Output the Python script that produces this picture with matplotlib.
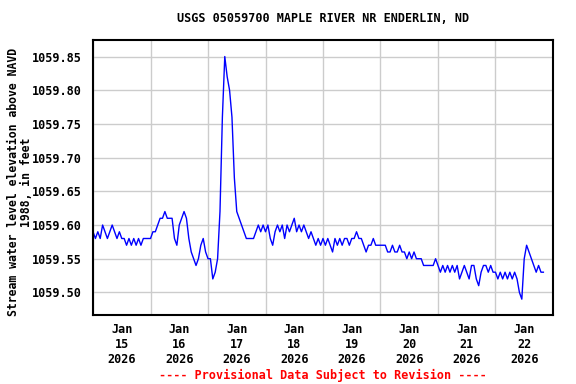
import numpy as np
import pandas as pd
import matplotlib
matplotlib.use("Agg")
import matplotlib.pyplot as plt
import matplotlib.dates as mdates

# Hourly water level readings (ft above NAVD 1988), one list per day
base = 1059.0
jan15 = [.59, .58, .59, .58, .60, .59, .58, .59, .60, .59, .58, .59,
         .58, .58, .57, .58, .57, .58, .57, .58, .57, .58, .58, .58]
jan16 = [.58, .59, .59, .60, .61, .61, .62, .61, .61, .61, .58, .57,
         .60, .61, .62, .61, .58, .56, .55, .54, .55, .57, .58, .56]
jan17 = [.55, .55, .52, .53, .55, .62, .76, .85, .82, .80, .76, .67,
         .62, .61, .60, .59, .58, .58, .58, .58, .59, .60, .59, .60]
jan18 = [.59, .60, .58, .57, .59, .60, .59, .60, .58, .60, .59, .60,
         .61, .59, .60, .59, .60, .59, .58, .59, .58, .57, .58, .57]
jan19 = [.58, .57, .58, .57, .56, .58, .57, .58, .57, .58, .58, .57,
         .58, .58, .59, .58, .58, .57, .56, .57, .57, .58, .57, .57]
jan20 = [.57, .57, .57, .56, .56, .57, .56, .56, .57, .56, .56, .55,
         .56, .55, .56, .55, .55, .55, .54, .54, .54, .54, .54, .55]
jan21 = [.54, .53, .54, .53, .54, .53, .54, .53, .54, .52, .53, .54,
         .53, .52, .54, .54, .52, .51, .53, .54, .54, .53, .54, .53]
jan22 = [.53, .52, .53, .52, .53, .52, .53, .52, .53, .52, .50, .49,
         .55, .57, .56, .55, .54, .53, .54, .53, .53]

levels = base + np.array(jan15 + jan16 + jan17 + jan18 + jan19 + jan20 + jan21 + jan22)
times = pd.date_range("2026-01-15 00:00", periods=len(levels), freq="h")

yticks = [1059.50, 1059.55, 1059.60, 1059.65, 1059.70, 1059.75, 1059.80, 1059.85]

mono = "DejaVu Sans Mono"
fig = plt.figure(figsize=(5.76, 3.84), dpi=100)
ax = fig.add_axes([0.1615, 0.1797, 0.7985, 0.7161])

ax.plot(times, levels, color="#0000ff", linewidth=1.0)

ax.set_xlim(pd.Timestamp("2026-01-15"), pd.Timestamp("2026-01-23"))
ax.set_ylim(1059.4665, 1059.8745)

ax.xaxis.set_major_locator(mdates.DayLocator())
ax.xaxis.set_major_formatter(plt.NullFormatter())
ax.xaxis.set_minor_locator(mdates.HourLocator(byhour=12))
ax.xaxis.set_minor_formatter(mdates.DateFormatter("%b\n%d\n%Y"))
ax.tick_params(axis="x", which="major", length=0)
ax.tick_params(axis="x", which="minor", length=0, pad=6)
ax.set_yticks(yticks)
ax.set_yticklabels([f"{v:.2f}" for v in yticks])
ax.tick_params(axis="y", length=0, pad=8)

for lbl in ax.get_xticklabels(minor=True) + ax.get_yticklabels():
    lbl.set_fontfamily(mono)
    lbl.set_fontweight("bold")
    lbl.set_fontsize(8.5)
    lbl.set_linespacing(1.2)

ax.grid(True, which="major", color="#cccccc", linewidth=1.0)
ax.set_axisbelow(True)
for sp in ax.spines.values():
    sp.set_linewidth(1.5)
    sp.set_color("black")

fig.text(0.561, 1 - 19 / 384, "USGS 05059700 MAPLE RIVER NR ENDERLIN, ND",
         fontfamily=mono, fontweight="bold", fontsize=8.5,
         ha="center", va="center")
fig.text(20 / 576, 1 - 182 / 384,
         "Stream water level elevation above NAVD\n1988, in feet",
         fontfamily=mono, fontweight="bold", fontsize=8.3, rotation=90,
         ha="center", va="center", multialignment="center", linespacing=1.05)

fig.text(0.561, 1 - 375 / 384, "---- Provisional Data Subject to Revision ----",
         color="#ff0000", fontfamily=mono, fontweight="bold", fontsize=8.5,
         ha="center", va="center")

fig.savefig("out.png", dpi=100)
